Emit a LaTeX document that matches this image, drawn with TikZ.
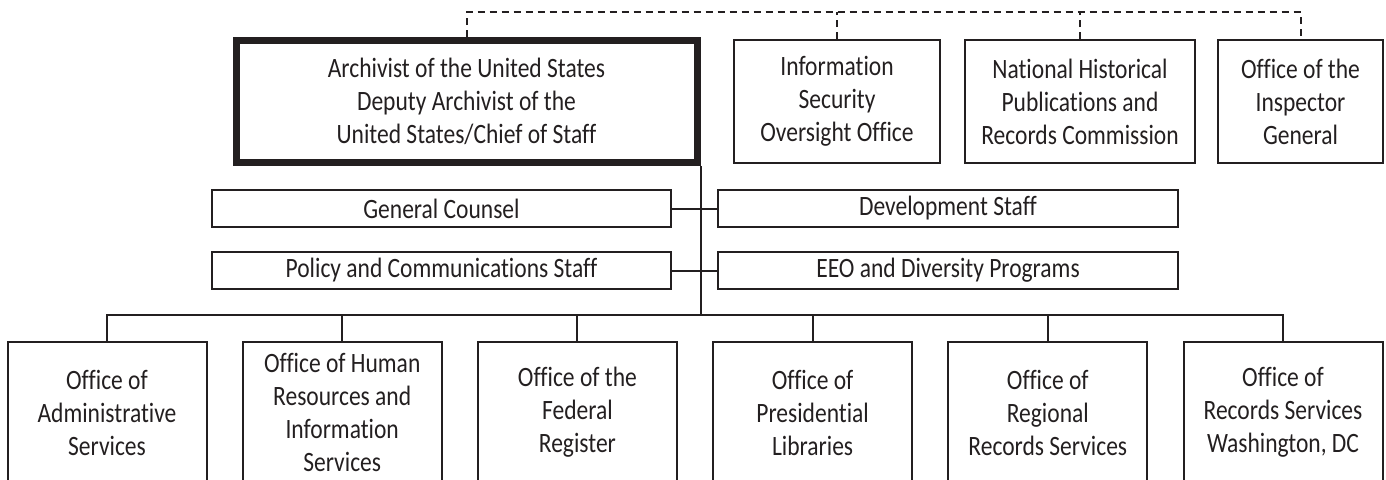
\documentclass[tikz,border=0pt]{standalone}
\usepackage{fontspec}
\setmainfont{Carlito}[FakeStretch=0.84,Ligatures={NoCommon}]
\usetikzlibrary{positioning}
\definecolor{ink}{HTML}{231F20}

\begin{document}
\begin{tikzpicture}[x=1pt,y=-1pt,node distance=235.2pt,on grid,
    every node/.style={align=center,text=ink,font=\fontsize{28}{33}\selectfont},
    box/.style={draw=ink,line width=2pt,inner sep=0pt},
    office/.style={box,minimum width=199pt,minimum height=141pt},
    staff/.style={box,minimum width=459pt,minimum height=37pt},
    link/.style={draw=ink,line width=2pt}]
        \useasboundingbox (0,0) rectangle (1386,479);
        % top row
        \node[box,line width=7pt,minimum width=461pt,minimum height=122pt] (arch) at (466.5,101.5) {Archivist of the United States\\Deputy Archivist of the\\United States/Chief of Staff};
        \node[box,minimum width=206pt,minimum height=123pt] (isoo) at (837,101.5) {Information\\Security\\Oversight Office};
        \node[box,minimum width=230pt,minimum height=123pt] (nhprc) at (1080,101.5) {National Historical\\Publications and\\Records Commission};
        \node[box,minimum width=165pt,minimum height=123pt] (oig) at (1300.5,101.5) {Office of the\\Inspector\\General};
        % staff offices
        \node[staff] (gc) at (441.5,208.5) {General Counsel};
        \node[staff] (pcs) [below=62pt of gc] {Policy and Communications Staff};
        \node[staff,minimum width=460pt] (dev) at (948,208.5) {Development Staff};
        \node[staff,minimum width=460pt] (eeo) [below=62pt of dev] {EEO and Diversity Programs};
        % bottom row
        \node[office] (oas) at (107,412.5) {Office of\\Administrative\\Services};
        \node[office] (ohr) [right=of oas] {Office of Human\\Resources and\\Information\\Services};
        \node[office] (ofr) [right=of ohr] {Office of the\\Federal\\Register};
        \node[office] (opl) [right=of ofr] {Office of\\Presidential\\Libraries};
        \node[office] (orr) [right=of opl] {Office of\\Regional\\Records Services};
        \node[office] (ors) [right=of orr] {Office of\\Records Services\\Washington, DC};
        \coordinate (bus) at (696,315);
        \coordinate (top) at (466.5,12);
        % solid lines
        \draw[link] (arch.south east) -- (arch.south east |- bus);
        \draw[link] (gc.east) -- (dev.west);
        \draw[link] (pcs.east) -- (eeo.west);
        \draw[link] (oas.north) -- (oas.north |- bus) -- (ors.north |- bus) -- (ors.north);
        \draw[link] (ohr.north) -- (ohr.north |- bus);
        \draw[link] (ofr.north) -- (ofr.north |- bus);
        \draw[link] (opl.north) -- (opl.north |- bus);
        \draw[link] (orr.north) -- (orr.north |- bus);
        % dashed lines
        \draw[link,dash pattern=on 7pt off 5pt] (arch.north) -- (arch.north |- top) -| (oig.north);
        \draw[link,dash pattern=on 7pt off 5pt] (isoo.north) -- (isoo.north |- top);
        \draw[link,dash pattern=on 7pt off 5pt] (nhprc.north) -- (nhprc.north |- top);
      \end{tikzpicture}
\end{document}
